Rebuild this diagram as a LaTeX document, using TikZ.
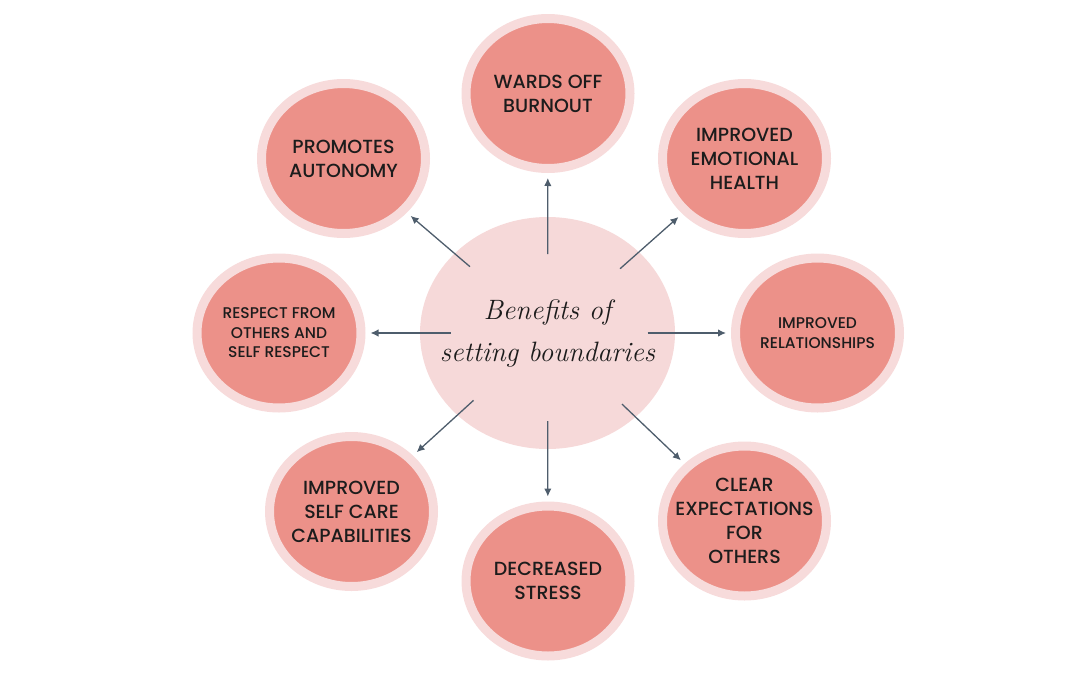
\documentclass[tikz,border=0pt]{standalone}
\usepackage{fontspec}
\newfontfamily\pop{Poppins}[UprightFont=* Medium]
\usetikzlibrary{shapes.geometric,arrows.meta}
\definecolor{ring}{HTML}{F7DBDB}
\definecolor{salmon}{HTML}{EC9189}
\definecolor{centerc}{HTML}{F6D9D9}
\definecolor{arrowc}{HTML}{4E5D6C}
\definecolor{txt}{HTML}{1C1C1C}
\tikzset{
  bubble/.style={ellipse, draw=ring, line width=9pt, fill=salmon, minimum width=164pt, minimum height=150pt, inner ysep=0pt, inner xsep=-30pt, align=center, text=txt, font=\pop\fontsize{19}{24}\selectfont},
  smallbubble/.style={bubble, font=\pop\fontsize{15.5}{19.5}\selectfont},
  hub/.style={ellipse, fill=centerc, minimum width=255pt, minimum height=232pt, inner sep=0pt, align=center, text=txt, font=\itshape\fontsize{28}{42}\selectfont},
  arr/.style={draw=arrowc, line width=1.3pt, -{Latex[length=8pt,width=7.5pt]}, shorten >=5pt}
}
\begin{document}
\begin{tikzpicture}[x=1pt,y=-1pt]
\useasboundingbox (0,0) rectangle (1080,675);
\node[hub] (c) at (547.5,333) {\makebox[0pt]{Benefits of}\\\makebox[0pt]{setting boundaries}};
\node[bubble] (n1) at (548,93.5) {WARDS OFF\\BURNOUT};
\node[bubble] (n2) at (744.5,158.5) {IMPROVED\\EMOTIONAL\\HEALTH};
\node[smallbubble] (n3) at (817.5,333) {IMPROVED\\RELATIONSHIPS};
\node[bubble] (n4) at (744.5,521) {CLEAR\\EXPECTATIONS\\FOR\\OTHERS};
\node[bubble] (n5) at (548,581) {DECREASED\\STRESS};
\node[bubble] (n6) at (351.5,511.5) {IMPROVED\\SELF CARE\\CAPABILITIES};
\node[smallbubble] (n7) at (279,333) {RESPECT FROM\\OTHERS AND\\SELF RESPECT};
\node[bubble] (n8) at (343.5,158.5) {PROMOTES\\AUTONOMY};
\draw[arr, shorten <=79pt] (c.center) -- (n1);
\draw[arr, shorten <=97pt] (c.center) -- (n2);
\draw[arr, shorten <=100pt] (c.center) -- (n3);
\draw[arr, shorten <=103pt] (c.center) -- (n4);
\draw[arr, shorten <=88pt] (c.center) -- (n5);
\draw[arr, shorten <=100pt] (c.center) -- (n6);
\draw[arr, shorten <=97pt] (c.center) -- (n7);
\draw[arr, shorten <=102pt] (c.center) -- (n8);
\end{tikzpicture}
\end{document}
